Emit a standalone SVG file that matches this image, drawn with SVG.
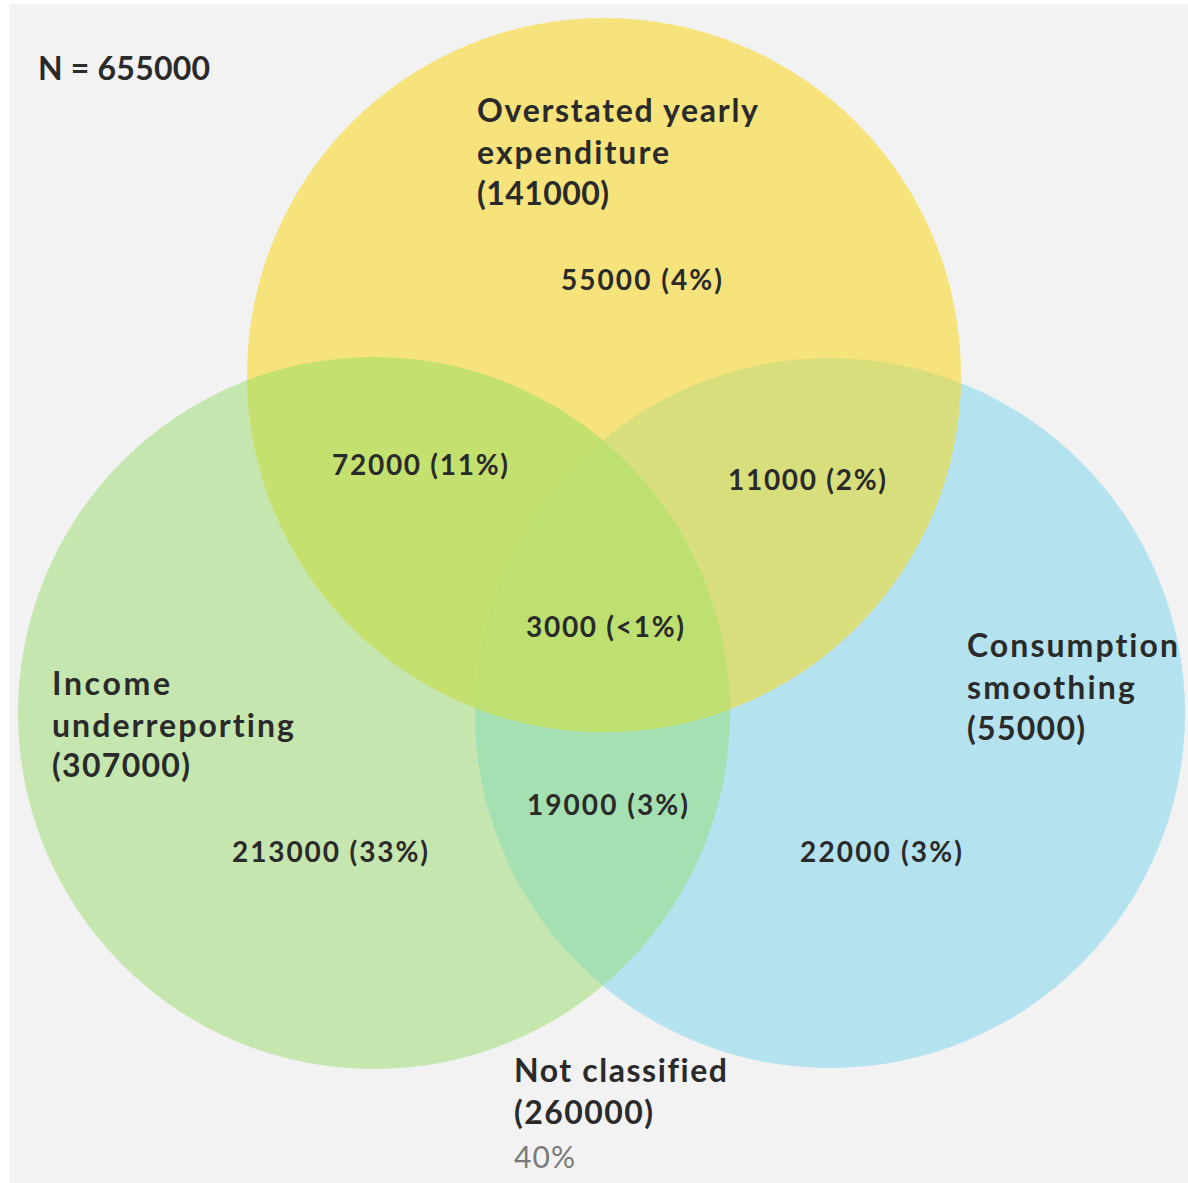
<svg xmlns="http://www.w3.org/2000/svg" width="1188" height="1183" viewBox="0 0 1188 1183">
<style>
text{font-variant-ligatures:none;font-feature-settings:"liga" 0,"clig" 0}
.t{font-family:Lato,"Noto Sans","Liberation Sans",sans-serif;font-weight:bold;fill:#2a2a2a}
.h{font-size:32px}
.n{font-size:28px}
.p{font-family:Lato,"Noto Sans","Liberation Sans",sans-serif;font-size:30px;fill:#7a7a7a}
</style>
<defs>
<clipPath id="cG"><circle cx="374" cy="713" r="356"/></clipPath>
<clipPath id="cB"><circle cx="830" cy="713" r="355"/></clipPath>
</defs>
<rect x="0" y="0" width="1188" height="1183" fill="#ffffff"/>
<rect x="9" y="4" width="1179" height="1179" fill="#f2f2f2"/>
<g id="circles">
<g id="income"><circle cx="374" cy="713" r="356" fill="#c5e6af"/></g>
<g id="consumption"><circle cx="830" cy="713" r="355" fill="#b4e2ef"/></g>
<circle cx="374" cy="713" r="356" fill="#a4e0b1" clip-path="url(#cB)"/>
<g id="overstated"><circle cx="604" cy="375" r="357" fill="#f6e37c"/></g>
<circle cx="604" cy="375" r="357" fill="#c4e06e" clip-path="url(#cG)"/>
<circle cx="604" cy="375" r="357" fill="#d8de7c" clip-path="url(#cB)"/>
<g clip-path="url(#cB)"><circle cx="604" cy="375" r="357" fill="#bde070" clip-path="url(#cG)"/></g>
</g>
<g id="labels">
<text class="t h" x="38" y="80" textLength="172" lengthAdjust="spacing">N = 655000</text>
<text class="t h" x="477" y="122" textLength="281" lengthAdjust="spacing">Overstated yearly</text>
<text class="t h" x="477" y="164" textLength="192" lengthAdjust="spacing">expenditure</text>
<text class="t h" x="477" y="205" textLength="132" lengthAdjust="spacing">(141000)</text>
<text class="t n" x="561" y="290" textLength="161" lengthAdjust="spacing">55000 (4%)</text>
<text class="t n" x="332" y="475" textLength="176" lengthAdjust="spacing">72000 (11%)</text>
<text class="t n" x="728" y="490" textLength="158" lengthAdjust="spacing">11000 (2%)</text>
<text class="t n" x="526" y="637" textLength="158" lengthAdjust="spacing">3000 (&lt;1%)</text>
<text class="t h" x="52" y="695" textLength="118" lengthAdjust="spacing">Income</text>
<text class="t h" x="52" y="737" textLength="242" lengthAdjust="spacing">underreporting</text>
<text class="t h" x="52" y="777" textLength="138" lengthAdjust="spacing">(307000)</text>
<text class="t h" x="967" y="657" textLength="211" lengthAdjust="spacing">Consumption</text>
<text class="t h" x="967" y="699" textLength="168" lengthAdjust="spacing">smoothing</text>
<text class="t h" x="967" y="740" textLength="118" lengthAdjust="spacing">(55000)</text>
<text class="t n" x="527" y="815" textLength="161" lengthAdjust="spacing">19000 (3%)</text>
<text class="t n" x="232" y="862" textLength="196" lengthAdjust="spacing">213000 (33%)</text>
<text class="t n" x="800" y="862" textLength="162" lengthAdjust="spacing">22000 (3%)</text>
<text class="t h" x="514" y="1082" textLength="213" lengthAdjust="spacing">Not classified</text>
<text class="t h" x="514" y="1124" textLength="139" lengthAdjust="spacing">(260000)</text>
<text class="p" x="514" y="1168" textLength="61" lengthAdjust="spacing">40%</text>
</g>
</svg>
